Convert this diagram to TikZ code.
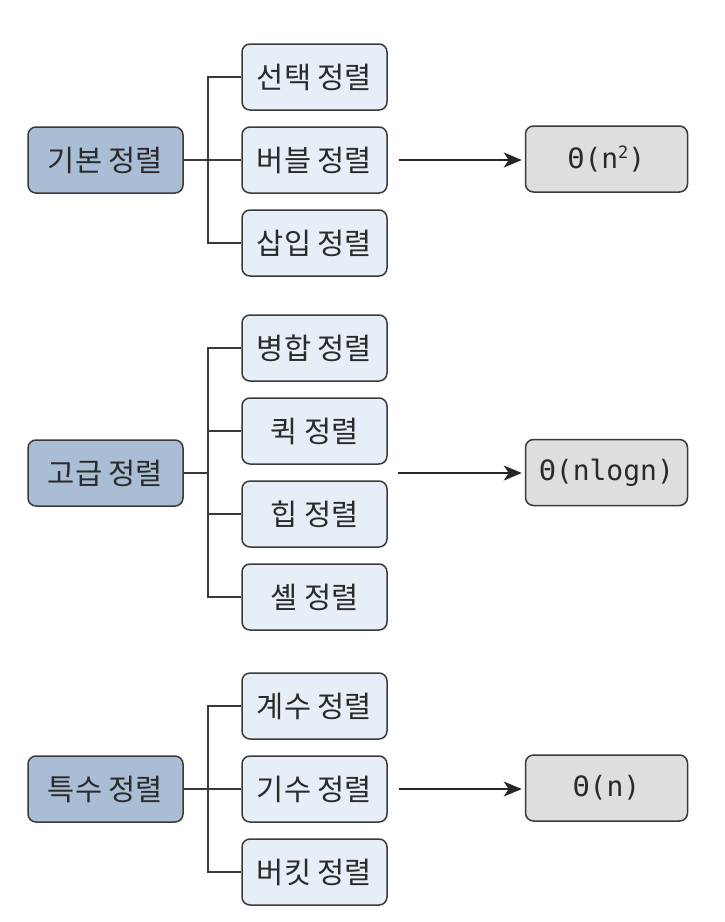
\documentclass[tikz,border=0pt]{standalone}
\usepackage{fontspec}
\newfontfamily\kr{Noto Sans CJK KR}
\newfontfamily\mono{DejaVu Sans Mono}
\usetikzlibrary{arrows.meta,calc}
\definecolor{parentfill}{HTML}{A9BED4}
\definecolor{childfill}{HTML}{E6EEF7}
\definecolor{thetafill}{HTML}{DEDEDE}
\definecolor{edge}{HTML}{3A3A3A}
\definecolor{txt}{HTML}{2A2A2A}
\tikzset{
  basebox/.style={draw=edge, line width=1.5pt, rounded corners=8pt, minimum height=66pt, inner sep=0pt, text=txt},
  parentbox/.style={basebox, fill=parentfill, minimum width=155pt, font=\kr\fontsize{29.5}{34}\selectfont},
  childbox/.style={basebox, fill=childfill, minimum width=145pt, font=\kr\fontsize{29.5}{34}\selectfont},
  thetabox/.style={basebox, fill=thetafill, minimum width=162pt, font=\mono\fontsize{28}{32}\selectfont},
  tree/.style={draw=edge, line width=2pt},
  arr/.style={draw=black!85, line width=1.8pt, -{Stealth[length=18pt,width=15pt,inset=5pt]}}
}
\begin{document}
\begin{tikzpicture}[x=1pt,y=-1pt]
\useasboundingbox (0,0) rectangle (724,922);
% group 1
\node[parentbox] (p1) at (105.5,160) {기본 정렬};
\node[childbox] (c11) at (314.5,77) {선택 정렬};
\node[childbox] (c12) at (314.5,160) {버블 정렬};
\node[childbox] (c13) at (314.5,243) {삽입 정렬};
\node[thetabox] (t1) at (606.5,159) {Θ(n\raisebox{0.6ex}{\fontsize{17}{18}\selectfont 2})};
\coordinate (j1) at (208,160);
\draw[tree] (p1.east) -- (c12.west);
\draw[tree] (c11.west) -| (j1) |- (c13.west);
\draw[arr] ([xshift=11pt]c12.east) -- ([xshift=-3pt]t1.west |- c12.east);
% group 2
\node[parentbox] (p2) at (105.5,473) {고급 정렬};
\node[childbox] (c21) at (314.5,348) {병합 정렬};
\node[childbox] (c22) at (314.5,431) {퀵 정렬};
\node[childbox] (c23) at (314.5,514) {힙 정렬};
\node[childbox] (c24) at (314.5,597) {셸 정렬};
\node[thetabox] (t2) at (606.5,472.5) {Θ(nlogn)};
\coordinate (j2) at (208,473);
\coordinate (a2) at (398,473);
\draw[tree] (p2.east) -- (j2);
\draw[tree] (c21.west) -| (j2) |- (c24.west);
\draw[tree] (c22.west -| j2) -- (c22.west);
\draw[tree] (c23.west -| j2) -- (c23.west);
\draw[arr] (a2) -- ([xshift=-3pt]t2.west |- a2);
% group 3
\node[parentbox] (p3) at (105.5,789) {특수 정렬};
\node[childbox] (c31) at (314.5,706) {계수 정렬};
\node[childbox] (c32) at (314.5,789) {기수 정렬};
\node[childbox] (c33) at (314.5,872) {버킷 정렬};
\node[thetabox] (t3) at (606.5,788) {Θ(n)};
\coordinate (j3) at (208,789);
\draw[tree] (p3.east) -- (c32.west);
\draw[tree] (c31.west) -| (j3) |- (c33.west);
\draw[arr] ([xshift=11pt]c32.east) -- ([xshift=-3pt]t3.west |- c32.east);
\end{tikzpicture}
\end{document}
